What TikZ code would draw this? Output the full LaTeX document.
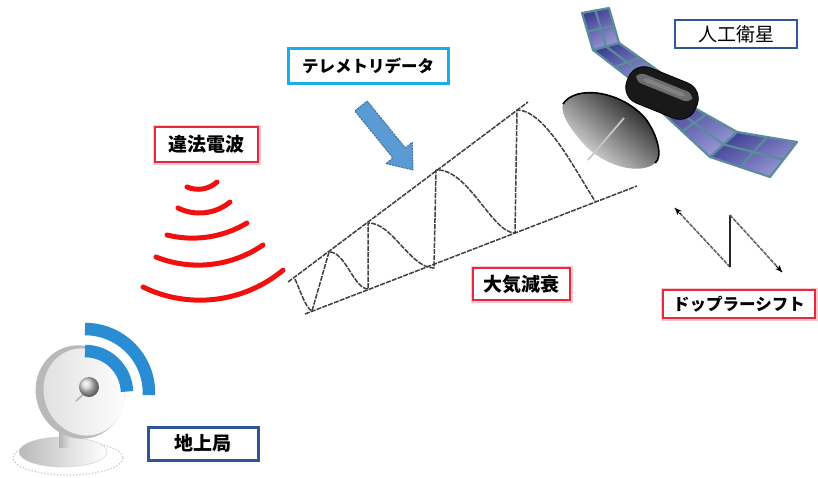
\documentclass[tikz,border=0pt]{standalone}
\usepackage{fontspec}
\usetikzlibrary{calc,arrows.meta,shapes.geometric}
\newfontfamily\jp{Noto Sans CJK JP}
\definecolor{navyline}{HTML}{2F5597}
\definecolor{cyanline}{HTML}{16AEE6}
\definecolor{redline}{HTML}{E8283C}
\definecolor{wavered}{HTML}{F01010}
\definecolor{signalblue}{HTML}{2A8DD4}
\definecolor{arrowblue}{HTML}{5B9BD5}
\definecolor{arrowedge}{HTML}{41719C}
\definecolor{panelA}{HTML}{3E3E92}
\definecolor{panelB}{HTML}{9A9AD8}
\definecolor{panelgridc}{HTML}{5A8C9C}
\newcommand\solarpanel[4]{%
  \shade[panelfill] #1 -- #2 -- #3 -- #4 -- cycle;
  \draw[panelgrid] ($#1!.5!#2$) -- ($#4!.5!#3$);
  \draw[panelgrid] ($#1!.5!#4$) -- ($#2!.5!#3$);
  \draw[panelgrid] #1 -- #2 -- #3 -- #4 -- cycle;
}
\tikzset{
  label/.style={font=\jp, inner sep=0pt, fill=white, text=black},
  kanjilabel/.style={label, font=\jp\bfseries\fontsize{19}{19}\selectfont},
  kanalabel/.style={label, font=\jp\bfseries\fontsize{16.5}{17}\selectfont},
  navybox/.style={draw=navyline},
  redbox/.style={draw=redline, line width=2pt, preaction={draw=redline!25, line width=5pt}},
  redarc/.style={wavered, line width=5pt, line cap=round},
  blueband/.style={signalblue, line width=12.5pt},
  conewave/.style={black!75, line width=1.5pt, dash pattern=on 5pt off 1.2pt},
  panelfill/.style={left color=panelA, right color=panelB, shading angle=30},
  panelgrid/.style={panelgridc, line width=2.2pt, line join=round},
  dopline/.style={gray!80!black, line width=1.6pt, dash pattern=on 4pt off 1pt},
  doptip/.style={-{Stealth[length=7pt,width=6pt]}}
}
\begin{document}
\begin{tikzpicture}[x=1pt,y=-1pt]
\useasboundingbox[fill=white] (0,0) rectangle (818,477);

% ---------- ground station dish ----------
\draw[gray!45, line width=1.2pt, dotted] (68,458) ellipse [x radius=55, y radius=17];
\shade[left color=gray!55, right color=white, draw=gray!40] (63,452) ellipse [x radius=44, y radius=15];
\shade[left color=gray!60, right color=gray!20] (59,428) rectangle (71,447);
\fill[gray!55, rotate around={20:(80,392)}] (80,392) ellipse [x radius=44, y radius=47];
\shade[left color=gray!25, right color=white, rotate around={20:(84,392)}] (84,392) ellipse [x radius=40, y radius=44];
\draw[gray!60, line width=1.5pt] (76,401) -- (86,392);
\shade[ball color=gray!35] (89,387) circle [radius=10];
% transmit waves
\draw[blueband] (85,329) arc[start angle=-90, end angle=2, radius=64];
\draw[blueband] (85,351) arc[start angle=-90, end angle=-2, radius=42];

% ---------- interfering waves (circular arcs, tilted) ----------
\draw[redarc] (187,187) arc[start angle=113.2, end angle=47.9, radius=28.2];
\draw[redarc] (178,208) arc[start angle=116.4, end angle=50.5, radius=48.1];
\draw[redarc] (167,235) arc[start angle=103.9, end angle=59.1, radius=106.1];
\draw[redarc] (156,257) arc[start angle=111.7, end angle=55.5, radius=114.3];
\draw[redarc] (143,287) arc[start angle=116.0, end angle=50.3, radius=130];

% ---------- propagation cone with wave ----------
\coordinate (u0) at (288,282);
\coordinate (u1) at (528,102);
\coordinate (l0) at (305,314);
\coordinate (l1) at (637,186);
\draw[conewave] (u0) -- (u1);
\draw[conewave] (l0) -- (l1);
\draw[conewave, line join=round]
  (295,279) .. controls (300,290) and (306,309) .. (312,311)
  -- (329,252)
  .. controls (345,251) and (354,289) .. (368,289)
  -- (368,223)
  .. controls (392,222) and (410,268) .. (434,268)
  -- (436,170)
  .. controls (468,168) and (492,233) .. (515,233)
  -- (517,110)
  .. controls (545,110) and (575,170) .. (595,201);

% ---------- telemetry arrow ----------
\fill[arrowblue] (367.2,101.0) -- (405.3,147.9) -- (412.3,142.2) -- (413,170)
  -- (385.9,163.6) -- (392.9,157.9) -- (354.8,111.0) -- cycle;
\draw[arrowedge, line width=1pt, dash pattern=on 2pt off 1pt, line join=round]
  (367.2,101.0) -- (405.3,147.9) -- (412.3,142.2) -- (413,170)
  -- (385.9,163.6) -- (392.9,157.9) -- (354.8,111.0) -- cycle;

% ---------- satellite ----------
% upper wing
\solarpanel{(582,13)}{(609,8)}{(619,43)}{(593,50)}
\solarpanel{(593,50)}{(619,43)}{(660,72)}{(637,84)}
% lower wing
\solarpanel{(655,106)}{(675,97)}{(737,132)}{(710,157)}
\solarpanel{(710,157)}{(737,132)}{(797,142)}{(770,177)}
% body with a soft highlight band
\begin{scope}[rotate around={-22:(662,93)}]
  \fill[black!90, rounded corners=17] (625,74) rectangle (699,112);
  \fill[gray!60, opacity=0.55, rounded corners=7] (632,82) rectangle (692,92);
  \fill[gray!80, opacity=0.5, rounded corners=3] (640,85) rectangle (684,89);
  \draw[black, line width=0.8pt, rounded corners=17] (625,74) rectangle (699,112);
\end{scope}
% dish, rim facing up and right
\draw[gray!70!black, line width=3pt] (622,118) -- (636,110);
\shade[top color=black!95, bottom color=gray!8, shading angle=-40]
  (563,104) .. controls (575,85) and (620,90) .. (645,118)
  .. controls (658,135) and (663,158) .. (655,163)
  .. controls (640,176) and (602,166) .. (582,142)
  .. controls (569,127) and (560,113) .. (563,104) -- cycle;
\draw[black, line width=1.6pt]
  (563,104) .. controls (575,85) and (620,90) .. (645,118)
  .. controls (658,135) and (663,158) .. (655,163);
\draw[gray!45, line width=1.8pt] (624,118) -- (588,160);

% ---------- Doppler shift arrows ----------
\coordinate (dA) at (675,208);
\coordinate (dB) at (730,267);
\coordinate (dC) at (730,215);
\coordinate (dD) at (782,272);
\draw[dopline] (dB) -- (dA);
\draw[doptip, black, line width=0pt] ($(dB)!0.9!(dA)$) -- (dA);
\draw[gray!30!black, line width=2.4pt] (dB) -- (dC);
\draw[dopline] (dC) -- (dD);
\draw[doptip, black, line width=0pt] ($(dC)!0.9!(dD)$) -- (dD);

% ---------- labels ----------
\node[label, navybox, line width=1.8pt, minimum width=122pt, minimum height=28pt,
      font=\jp\fontsize{19}{19}\selectfont] (sat) at (736,34) {人工衛星};
\node[kanalabel, draw=cyanline, line width=3pt, minimum width=160pt, minimum height=35pt]
      (tele) at (368,65.5) {テレメトリデータ};
\node[kanjilabel, redbox, minimum width=103pt, minimum height=35pt]
      (illegal) at (206.5,144.5) {違法電波};
\node[kanjilabel, redbox, minimum width=97pt, minimum height=32pt]
      (atten) at (521.5,284) {大気減衰};
\node[kanalabel, redbox, minimum width=152pt, minimum height=28pt]
      (doppler) at (739,304) {ドップラーシフト};
\node[kanjilabel, navybox, line width=3pt, minimum width=110pt, minimum height=33pt]
      (ground) at (203,443.5) {地上局};
\end{tikzpicture}
\end{document}
